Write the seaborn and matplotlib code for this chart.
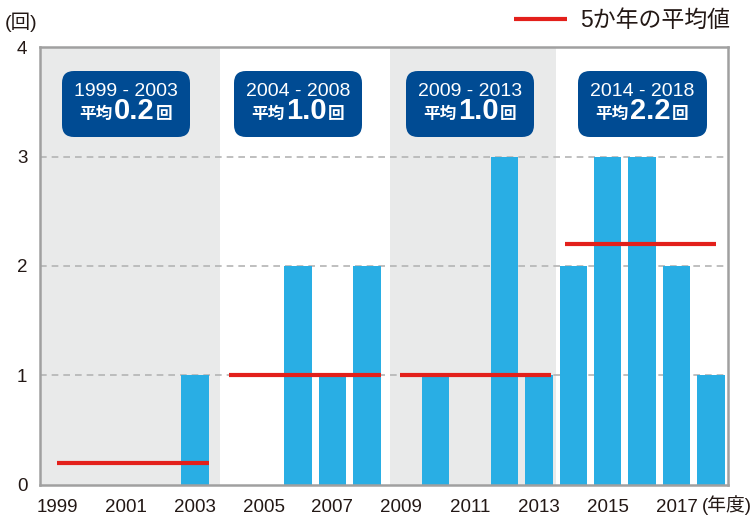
import seaborn as sns
import matplotlib.pyplot as plt
import pandas as pd
from matplotlib.offsetbox import TextArea, HPacker, VPacker, AnnotationBbox

# データ
years = list(range(1999, 2019))
counts = [0, 0, 0, 0, 1, 0, 0, 2, 1, 2, 0, 1, 0, 3, 1, 2, 3, 3, 2, 1]
period_start = [1999, 2004, 2009, 2014]
period_end = [2003, 2008, 2013, 2018]
period_avg = [0.2, 1.0, 1.0, 2.2]
xtick_years = [1999, 2001, 2003, 2005, 2007, 2009, 2011, 2013, 2015, 2017]
yticks = [0, 1, 2, 3, 4]

df = pd.DataFrame({'year': years, 'count': counts})

sns.set_theme(style='white')
plt.rcParams['font.family'] = ['Liberation Sans', 'Noto Sans CJK JP', 'DejaVu Sans']

bar_color = '#29aee4'
red = '#e3201b'
navy = '#004b93'
band = '#e9eaea'
text_color = '#231815'

fig = plt.figure(figsize=(7.53, 5.17), dpi=100)
ax = fig.add_axes([0.053, 0.062, 0.914, 0.847])

# 背景の帯 (1999-2003, 2009-2013)
ax.axvspan(1998.5, 2003.74, color=band, lw=0, zorder=0)
ax.axvspan(2008.67, 2013.5, color=band, lw=0, zorder=0)

for y in yticks[1:-1]:
    ax.axhline(y, color='#b4b4b4', lw=1.2, ls=(0, (4, 3)), zorder=1)

sns.barplot(data=df, x='year', y='count', native_scale=True, color=bar_color,
            saturation=1, width=0.8, linewidth=0, edgecolor='none', ax=ax, zorder=2)

# 5か年の平均値
line_shift = [0.0, 0.0, -0.05, -0.25]
for i, (s, e, a) in enumerate(zip(period_start, period_end, period_avg)):
    ax.plot([s + line_shift[i], e + 0.4 + line_shift[i]], [a, a], color=red, lw=3,
            solid_capstyle='butt', zorder=3, label='5か年の平均値' if i == 0 else None)

    top = TextArea(f'{s} - {e}', textprops=dict(color='white', size=14))
    p1 = TextArea('平均', textprops=dict(color='white', size=12, weight='bold'))
    p2 = TextArea(f'{a:.1f}', textprops=dict(color='white', size=21, weight='bold'))
    p3 = TextArea('回', textprops=dict(color='white', size=12, weight='bold'))
    row = HPacker(children=[p1, p2, p3], align='baseline', pad=0, sep=1)
    box = VPacker(children=[top, row], align='center', pad=0, sep=-2)
    ab = AnnotationBbox(box, ((s + e) / 2, 3.48), xycoords='data', frameon=True,
                        bboxprops=dict(boxstyle='round,pad=0.8,rounding_size=0.8',
                                       fc=navy, ec='none'), zorder=4)
    ax.add_artist(ab)

ax.set_xlim(1998.5, 2018.5)
ax.set_ylim(0, 4)
ax.set_xticks(xtick_years)
ax.set_xticklabels([str(y) for y in xtick_years])
ax.set_yticks(yticks)
ax.tick_params(length=0, labelsize=13.5, colors=text_color)
ax.tick_params(axis='x', pad=10)
ax.tick_params(axis='y', pad=9)
ax.set_xlabel('')
ax.set_ylabel('')
for sp in ax.spines.values():
    sp.set_color('#a0a0a0')
    sp.set_linewidth(1.8)

fig.text(0.006, 0.957, '(回)', fontsize=14, color=text_color, va='center', ha='left')
fig.text(0.999, 0.024, '(年度)', fontsize=13.5, color=text_color, va='center', ha='right')

ax.legend(loc='center right', bbox_to_anchor=(0.97, 0.961), bbox_transform=fig.transFigure,
          frameon=False, fontsize=16.5, handlelength=2.3, handletextpad=0.6,
          borderpad=0, borderaxespad=0, labelcolor=text_color)

fig.savefig('out.png', dpi=100)
